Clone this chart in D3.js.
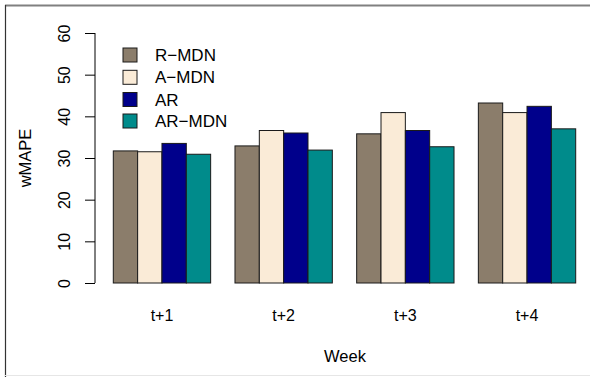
<!DOCTYPE html>
<html>
<head>
<meta charset="utf-8">
<script src="https://cdn.jsdelivr.net/npm/d3@7"></script>
<style>
  html, body { margin: 0; padding: 0; background: #fff; }
  svg { display: block; font-family: "Liberation Sans", Arial, Helvetica, sans-serif; }
</style>
</head>
<body>
<svg id="chart" width="590" height="377"></svg>
<script>
const weeks = ["t+1", "t+2", "t+3", "t+4"];
const seriesNames = ["R\u2212MDN", "A\u2212MDN", "AR", "AR\u2212MDN"];
const seriesColors = ["#8B7D6B", "#FAEBD7", "#00008B", "#008B8B"];
const rMDN  = [31.7, 32.9, 35.8, 43.2];
const aMDN  = [31.5, 36.6, 40.9, 40.9];
const arV   = [33.5, 36.0, 36.6, 42.4];
const arMDN = [30.9, 31.9, 32.7, 37.0];
const yTicks = [0, 10, 20, 30, 40, 50, 60];
const yLabel = "wMAPE";
const xLabel = "Week";

const values = [rMDN, aMDN, arV, arMDN];
const svg = d3.select("#chart");

// frame
svg.append("line").attr("x1", 5).attr("x2", 590).attr("y1", 5.5).attr("y2", 5.5)
  .attr("stroke", "#808080").attr("stroke-width", 2);
svg.append("line").attr("x1", 5.5).attr("x2", 5.5).attr("y1", 5).attr("y2", 377)
  .attr("stroke", "#333").attr("stroke-width", 1.2);
svg.append("line").attr("x1", 5).attr("x2", 590).attr("y1", 375.5).attr("y2", 375.5)
  .attr("stroke", "#e6e6e6").attr("stroke-width", 1);

const y = d3.scaleLinear().domain([0, 60]).range([283, 33]);
const x0 = d3.scaleBand().domain(weeks).range([113.3, 575.7]).paddingInner(0.2).paddingOuter(0);
const x1 = d3.scaleBand().domain(seriesNames).range([0, x0.bandwidth()]).padding(0);

// bars
const g = svg.append("g");
weeks.forEach((w, i) => {
  seriesNames.forEach((s, j) => {
    g.append("rect")
      .attr("x", x0(w) + x1(s))
      .attr("y", y(values[j][i]))
      .attr("width", x1.bandwidth())
      .attr("height", y(0) - y(values[j][i]))
      .attr("fill", seriesColors[j])
      .attr("stroke", "#1a1a1a")
      .attr("stroke-width", 1);
  });
});

// y axis
const axisX = 95;
const ax = svg.append("g").attr("transform", `translate(${axisX},0)`)
  .call(d3.axisLeft(y).tickValues(yTicks).tickSize(10).tickSizeOuter(0).tickFormat(d3.format("d")));
ax.select(".domain").attr("stroke", "#000").attr("d", `M0,${y(0)}V${y(60)}`);
ax.selectAll(".tick line").attr("stroke", "#000");
ax.selectAll(".tick text")
  .attr("x", 0).attr("y", 0).attr("dy", null)
  .attr("transform", "translate(-25,0) rotate(-90)")
  .attr("text-anchor", "middle")
  .attr("font-size", 16)
  .attr("font-family", "Liberation Sans, Arial, sans-serif")
  .attr("fill", "#000");

// x labels
weeks.forEach(w => {
  svg.append("text")
    .attr("x", x0(w) + x0.bandwidth() / 2)
    .attr("y", 321)
    .attr("text-anchor", "middle")
    .attr("font-size", 16)
    .text(w);
});

svg.append("text")
  .attr("x", 345).attr("y", 362)
  .attr("text-anchor", "middle")
  .attr("font-size", 16.5)
  .text(xLabel);

svg.append("text")
  .attr("transform", `translate(31,${y(30)}) rotate(-90)`)
  .attr("text-anchor", "middle")
  .attr("font-size", 16.5)
  .text(yLabel);

// legend
const legendY = [55, 77.3, 99.5, 121];
seriesNames.forEach((s, j) => {
  svg.append("rect")
    .attr("x", 123).attr("y", legendY[j] - 7)
    .attr("width", 14).attr("height", 14)
    .attr("fill", seriesColors[j])
    .attr("stroke", "#1a1a1a").attr("stroke-width", 1);
  svg.append("text")
    .attr("x", 155).attr("y", legendY[j])
    .attr("dy", "0.36em")
    .attr("font-size", 17)
    .text(s);
});
</script>
</body>
</html>
